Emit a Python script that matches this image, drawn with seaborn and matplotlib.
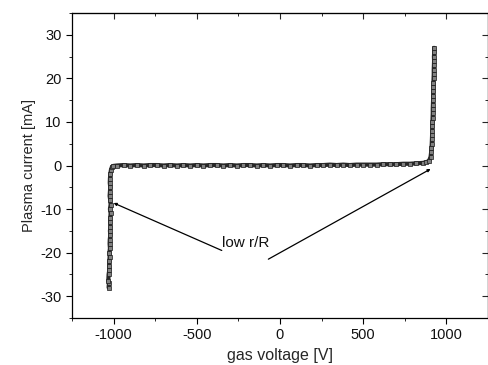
import matplotlib
matplotlib.use("Agg")
import matplotlib.pyplot as plt
from matplotlib.ticker import MultipleLocator, NullFormatter
import seaborn as sns
import pandas as pd

# ---- data ----
left_v = [-1030, -1028, -1032, -1030, -1026, -1027, -1026, -1024, -1025, -1022,
          -1024, -1023, -1020, -1022, -1019, -1021, -1020, -1018, -1022, -1018,
          -1020, -1024, -1022, -1020, -1023, -1022, -1020, -1016, -1010, -1002]
left_i = [-28.0, -27.0, -26.5, -25.0, -24.0, -23.0, -22.0, -21.0, -20.0, -19.0,
          -18.0, -17.0, -16.0, -15.0, -14.0, -13.0, -12.0, -11.0, -10.0, -9.0,
          -8.0, -7.0, -6.0, -5.0, -4.0, -3.0, -2.0, -1.0, -0.3, -0.1]
flat_v = [-980, -940, -900, -860, -820, -780, -740, -700, -660, -620, -580, -540,
          -500, -460, -420, -380, -340, -300, -260, -220, -180, -140, -100, -60,
          -20, 20, 60, 100, 140, 180, 220, 260, 300, 340, 380, 420, 460, 500, 540,
          580, 620, 660, 700, 740, 780, 820, 860, 880]
flat_i = [0.0, 0.1, 0.0, 0.1, 0.0, 0.1, 0.1, 0.0, 0.1, 0.0, 0.1, 0.0,
          0.1, 0.0, 0.1, 0.1, 0.0, 0.1, 0.0, 0.1, 0.1, 0.0, 0.1, 0.0,
          0.1, 0.1, 0.0, 0.1, 0.1, 0.0, 0.1, 0.1, 0.2, 0.1, 0.2, 0.1, 0.2, 0.2, 0.2,
          0.2, 0.3, 0.3, 0.3, 0.4, 0.4, 0.5, 0.6, 0.8]
right_v = [895, 905, 908, 910, 912, 913, 914, 915, 915, 916, 917, 918, 918, 919,
           920, 920, 921, 922, 922, 923, 924, 924, 925, 926, 925, 927, 926]
right_i = [1.0, 2.0, 3.0, 4.0, 5.0, 6.0, 7.0, 8.0, 9.0, 10.0, 11.0, 12.0, 13.0, 14.0,
           15.0, 16.0, 17.0, 18.0, 19.0, 20.0, 21.0, 22.0, 23.0, 24.0, 25.0, 26.0, 27.0]

voltage = left_v + flat_v + right_v
current = left_i + flat_i + right_i
df = pd.DataFrame({"voltage": voltage, "current": current})

x_ticks = [-1000, -500, 0, 500, 1000]
y_ticks = [-30, -20, -10, 0, 10, 20, 30]
x_label = "gas voltage [V]"
y_label = "Plasma current [mA]"
annot_text = "low r/R"

# ---- style ----
sns.set_style("ticks")
plt.rcParams["font.family"] = ["Liberation Sans", "DejaVu Sans"]
plt.rcParams["axes.unicode_minus"] = False

fig = plt.figure(figsize=(4.89, 3.65), dpi=100)
ax = fig.add_axes([72 / 489, 1 - 318 / 365, (488 - 72) / 489, (318 - 13) / 365])

sns.lineplot(data=df, x="voltage", y="current", sort=False, estimator=None, ax=ax,
             color="#262626", linewidth=3.0, marker="s", markersize=2.6,
             markeredgecolor="#1a1a1a", markerfacecolor="#808080",
             markeredgewidth=0.5)

ax.set_xlim(-1250, 1250)
ax.set_ylim(-35, 35)
ax.set_xticks(x_ticks)
ax.set_yticks(y_ticks)
ax.xaxis.set_minor_locator(MultipleLocator(250))
ax.yaxis.set_minor_locator(MultipleLocator(5))
ax.tick_params(axis="both", which="major", direction="out", length=4, width=0.8,
               labelsize=10.5, color="black", labelcolor="#111111")
ax.tick_params(axis="both", which="minor", direction="out", length=2.5, width=0.7)
for s in ax.spines.values():
    s.set_visible(True)
    s.set_linewidth(0.9)
    s.set_color("black")

# inward ticks on top / right
top = ax.secondary_xaxis("top")
top.set_xticks(x_ticks)
top.xaxis.set_minor_locator(MultipleLocator(250))
top.xaxis.set_major_formatter(NullFormatter())
top.tick_params(which="major", direction="in", length=4, width=0.8)
top.tick_params(which="minor", direction="in", length=2.5, width=0.7)
right = ax.secondary_yaxis("right")
right.set_yticks(y_ticks)
right.yaxis.set_minor_locator(MultipleLocator(5))
right.yaxis.set_major_formatter(NullFormatter())
right.tick_params(which="major", direction="in", length=4, width=0.8)
right.tick_params(which="minor", direction="in", length=2.5, width=0.7)

ax.set_xlabel(x_label, fontsize=11.5, labelpad=4)
ax.set_ylabel(y_label, fontsize=10.5, labelpad=3)

# annotation
ax.text(-350, -17.8, annot_text, fontsize=11, ha="left", va="center", color="#111111")
ax.annotate("", xy=(-1000, -8.6), xytext=(-350, -19.5),
            arrowprops=dict(arrowstyle="-|>", color="black", lw=0.9,
                            mutation_scale=4, shrinkA=0, shrinkB=0))
ax.annotate("", xy=(905, -0.8), xytext=(-70, -21.5),
            arrowprops=dict(arrowstyle="-|>", color="black", lw=0.9,
                            mutation_scale=4, shrinkA=0, shrinkB=0))

fig.savefig("out.png", dpi=100)
